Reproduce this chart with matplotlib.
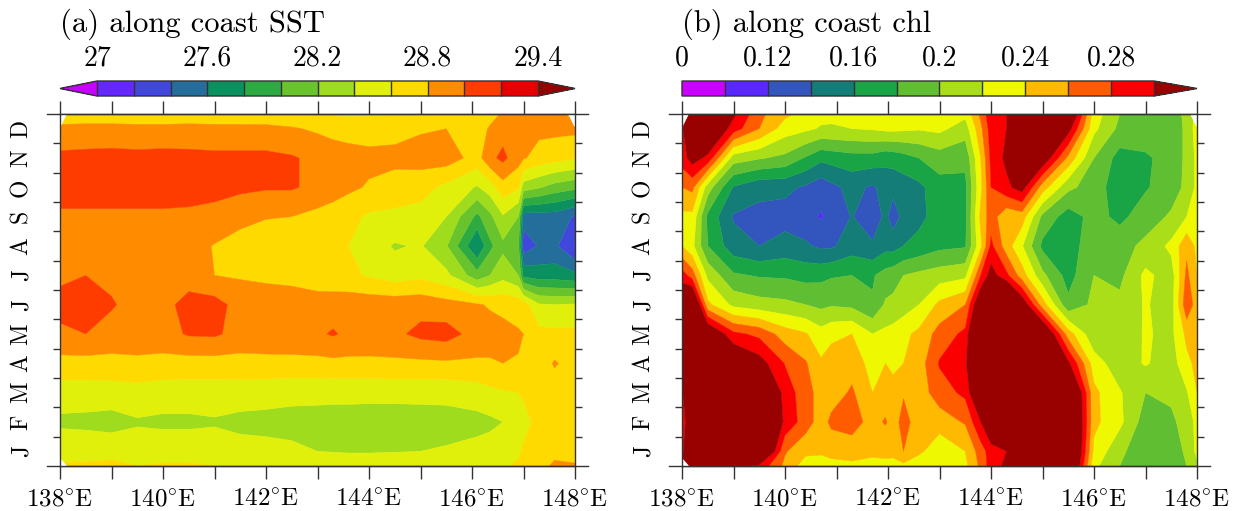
import matplotlib
matplotlib.use('Agg')

import numpy as np
import matplotlib.pyplot as plt

plt.rcParams['font.family'] = ['cmr10', 'DejaVu Serif']
plt.rcParams['axes.formatter.use_mathtext'] = True
plt.rcParams['mathtext.fontset'] = 'cm'

months = ['J', 'F', 'M', 'A', 'M', 'J', 'J', 'A', 'S', 'O', 'N', 'D']
rows = [0, .5, 1.5, 2.5, 3.5, 4.5, 5.5, 6.5, 7.5, 8.5, 9.5, 10.5, 11.5, 12]

# (a) SST, rows go from bottom (Jan) to top (Dec)
sst_lon = [138, 138.5, 139, 139.5, 140, 140.5, 141, 141.5, 142, 142.5, 143, 143.3, 143.6,
           144, 144.5, 145, 145.5, 146.1, 146.35, 146.6, 146.9, 147, 147.3, 147.6, 148]
sst = np.array([
    [28.62, 28.63, 28.66, 28.60, 28.62, 28.62, 28.60, 28.60, 28.60, 28.58, 28.58, 28.56, 28.55, 28.55, 28.55, 28.55, 28.56, 28.56, 28.57, 28.58, 28.62, 28.66, 28.72, 28.84, 28.82],
    [28.54, 28.53, 28.52, 28.50, 28.52, 28.52, 28.50, 28.47, 28.46, 28.44, 28.40, 28.39, 28.38, 28.38, 28.39, 28.40, 28.42, 28.46, 28.48, 28.50, 28.58, 28.62, 28.70, 28.74, 28.72],
    [28.36, 28.35, 28.33, 28.38, 28.36, 28.36, 28.38, 28.35, 28.34, 28.33, 28.32, 28.31, 28.31, 28.30, 28.30, 28.31, 28.32, 28.34, 28.36, 28.40, 28.50, 28.55, 28.65, 28.68, 28.68],
    [28.50, 28.50, 28.50, 28.52, 28.50, 28.50, 28.50, 28.49, 28.48, 28.46, 28.46, 28.46, 28.46, 28.46, 28.46, 28.46, 28.46, 28.50, 28.55, 28.58, 28.60, 28.62, 28.68, 28.70, 28.70],
    [28.73, 28.73, 28.74, 28.75, 28.73, 28.72, 28.72, 28.73, 28.74, 28.74, 28.74, 28.75, 28.75, 28.75, 28.76, 28.76, 28.77, 28.77, 28.78, 28.80, 28.79, 28.78, 28.68, 28.82, 28.72],
    [28.97, 29.00, 28.92, 28.93, 28.93, 29.02, 29.03, 28.93, 28.93, 28.94, 28.97, 29.02, 28.96, 28.95, 28.96, 29.05, 29.08, 28.92, 28.88, 28.86, 28.82, 28.80, 28.66, 28.65, 28.65],
    [29.05, 29.08, 29.02, 28.92, 28.93, 29.08, 29.08, 28.92, 28.93, 28.92, 28.90, 28.91, 28.92, 28.92, 28.92, 28.93, 28.88, 28.82, 28.78, 28.75, 28.72, 28.70, 28.42, 28.40, 28.42],
    [28.97, 29.00, 28.95, 28.88, 28.88, 28.90, 28.80, 28.78, 28.75, 28.73, 28.68, 28.66, 28.64, 28.58, 28.50, 28.55, 28.45, 28.08, 28.20, 28.33, 28.20, 27.75, 27.70, 27.70, 27.65],
    [28.88, 28.88, 28.88, 28.88, 28.88, 28.87, 28.79, 28.76, 28.70, 28.68, 28.66, 28.63, 28.60, 28.50, 28.38, 28.42, 28.22, 27.60, 27.95, 28.15, 28.05, 27.28, 27.42, 27.45, 27.18],
    [28.97, 28.97, 28.97, 28.97, 28.97, 28.96, 28.92, 28.83, 28.81, 28.80, 28.74, 28.70, 28.66, 28.57, 28.55, 28.52, 28.40, 27.95, 28.15, 28.38, 28.20, 27.50, 27.50, 27.50, 27.38],
    [29.08, 29.08, 29.08, 29.08, 29.08, 29.08, 29.08, 29.05, 29.02, 29.02, 28.95, 28.90, 28.84, 28.78, 28.72, 28.68, 28.55, 28.38, 28.50, 28.72, 28.62, 28.30, 28.22, 28.12, 28.05],
    [29.05, 29.06, 29.07, 29.06, 29.07, 29.06, 29.05, 29.05, 29.05, 29.02, 28.95, 28.90, 28.88, 28.85, 28.85, 28.88, 28.90, 28.72, 28.95, 29.05, 28.88, 28.82, 28.72, 28.68, 28.62],
    [28.85, 28.86, 28.86, 28.85, 28.85, 28.86, 28.85, 28.85, 28.85, 28.82, 28.77, 28.74, 28.72, 28.72, 28.74, 28.78, 28.80, 28.72, 28.82, 28.92, 28.93, 28.93, 28.85, 28.85, 28.85],
    [28.68, 28.68, 28.68, 28.68, 28.68, 28.68, 28.68, 28.68, 28.67, 28.65, 28.62, 28.58, 28.57, 28.58, 28.58, 28.58, 28.65, 28.70, 28.74, 28.82, 28.82, 28.82, 28.84, 28.84, 28.76],
])
sst_levels = [27, 27.2, 27.4, 27.6, 27.8, 28, 28.2, 28.4, 28.6, 28.8, 29, 29.2, 29.4]
sst_ticks = [27, 27.6, 28.2, 28.8, 29.4]
sst_ticklabels = ['27', '27.6', '28.2', '28.8', '29.4']
sst_colors = ['#c800ff', '#6428ff', '#4146dc', '#236e9b', '#0a915f', '#2daa41', '#69c32d',
              '#a0dc1e', '#e1f00a', '#ffda00', '#ff8c00', '#ff3c00', '#e80000', '#960000']

# (b) chl
chl_lon = [138, 138.2, 138.5, 139, 139.5, 140, 140.4, 140.7, 140.9, 141.3, 141.7, 141.95, 142.1, 142.3, 142.6,
           143, 143.5, 143.8, 144, 144.3, 144.6, 145, 145.5, 146, 146.5, 147, 147.5, 147.8, 148]
chl = np.array([
    [.300, .340, .350, .310, .295, .255, .230, .225, .235, .235, .225, .235, .230, .235, .225, .220, .235, .265, .290, .305, .370, .380, .360, .225, .200, .183, .187, .200, .215],
    [.290, .370, .370, .370, .360, .262, .245, .245, .245, .250, .250, .245, .248, .260, .245, .225, .240, .270, .290, .300, .370, .380, .370, .235, .205, .185, .185, .205, .225],
    [.275, .350, .370, .370, .360, .295, .270, .250, .265, .268, .253, .262, .250, .268, .250, .250, .262, .300, .330, .380, .380, .380, .370, .245, .225, .190, .195, .210, .225],
    [.295, .370, .370, .370, .360, .290, .270, .250, .250, .263, .240, .250, .248, .258, .250, .270, .285, .340, .380, .380, .380, .380, .360, .245, .222, .200, .205, .218, .240],
    [.360, .370, .360, .330, .310, .279, .262, .243, .250, .252, .232, .240, .235, .240, .250, .282, .295, .370, .380, .380, .380, .370, .305, .230, .208, .222, .210, .235, .245],
    [.360, .360, .330, .285, .275, .250, .242, .228, .235, .240, .220, .225, .228, .235, .245, .268, .285, .370, .380, .380, .370, .340, .250, .205, .207, .222, .215, .245, .245],
    [.330, .350, .245, .215, .208, .205, .200, .195, .198, .195, .182, .203, .205, .210, .220, .245, .260, .330, .360, .370, .320, .250, .185, .205, .205, .222, .210, .275, .250],
    [.290, .270, .215, .183, .178, .177, .173, .175, .178, .180, .178, .188, .192, .200, .205, .210, .215, .280, .310, .285, .250, .205, .172, .200, .195, .225, .210, .265, .240],
    [.240, .225, .180, .148, .140, .148, .143, .136, .137, .150, .143, .153, .152, .160, .166, .175, .178, .235, .285, .250, .222, .175, .172, .190, .192, .205, .225, .255, .235],
    [.235, .235, .175, .138, .135, .132, .127, .118, .128, .141, .127, .145, .130, .146, .155, .168, .175, .245, .270, .245, .250, .195, .170, .187, .175, .190, .203, .220, .225],
    [.260, .265, .210, .158, .145, .145, .137, .128, .135, .146, .137, .148, .146, .150, .155, .172, .175, .235, .280, .295, .310, .250, .205, .190, .168, .178, .190, .205, .225],
    [.290, .310, .295, .210, .202, .195, .178, .165, .168, .172, .172, .166, .168, .172, .180, .190, .185, .240, .285, .305, .340, .320, .255, .200, .172, .178, .185, .205, .225],
    [.295, .360, .335, .290, .260, .230, .224, .218, .218, .220, .222, .225, .225, .224, .222, .225, .210, .255, .290, .300, .340, .350, .310, .225, .195, .188, .185, .205, .230],
    [.285, .320, .340, .305, .265, .245, .232, .226, .224, .222, .228, .235, .238, .240, .234, .225, .225, .265, .295, .300, .340, .360, .340, .230, .200, .190, .180, .210, .225],
])
chl_levels = [0, .1, .12, .14, .16, .18, .2, .22, .24, .26, .28, .3]
chl_ticks = [0, .12, .16, .2, .24, .28]
chl_ticklabels = ['0', '0.12', '0.16', '0.2', '0.24', '0.28']
chl_colors = ['#cc00ff', '#5a28ff', '#3255be', '#147d78', '#19a546', '#5fbe32', '#aade19',
              '#eef800', '#ffb900', '#ff5c00', '#fa0000', '#990000']

W, H = 1233.0, 511.0
DARK = '#333333'
fig = plt.figure(figsize=(12.33, 5.11), dpi=100)


def panel(x0, lon, z, levels, colors, extend, title, ticks, ticklabels, frac):
    ax = fig.add_axes([x0 / W, (H - 466) / H, 515 / W, 352 / H])
    cf = ax.contourf(lon, rows, z, levels=levels, colors=colors, extend=extend, antialiased=True)
    cf.set_edgecolor('face')
    cf.set_linewidth(0.3)
    ax.set_xlim(138, 148)
    ax.set_ylim(0, 12)

    ax.set_xticks(np.arange(138, 149))
    ax.set_xticklabels(['%d$^{\\circ}$E' % v if v % 2 == 0 else '' for v in range(138, 149)], fontsize=18)
    ax.tick_params(axis='x', top=True, length=9.4, width=1, color=DARK, pad=7)

    ax.set_yticks(np.arange(12) + .5)
    ax.set_yticklabels(months, rotation=90, va='center', ha='center', fontsize=17)
    ax.tick_params(axis='y', which='major', length=0, pad=28)
    ax.set_yticks(np.arange(1, 12), minor=True)
    ax.tick_params(axis='y', which='minor', left=True, right=True, length=5, width=1, color=DARK)
    for m in [0, 12]:
        ax.plot([-.025, 1.025], [m, m], transform=ax.get_yaxis_transform(), color=DARK, lw=1, clip_on=False)
    for s in ax.spines.values():
        s.set_color(DARK)
        s.set_linewidth(1)

    # small blank corners the plot leaves in the mesh
    ax.fill([0, .012, 0], [1, 1, .965], transform=ax.transAxes, color='w', zorder=2)
    ax.fill([0, .012, 0], [0, 0, .02], transform=ax.transAxes, color='w', zorder=2)
    ax.fill([1, .988, 1], [1, 1, .965], transform=ax.transAxes, color='w', zorder=2)

    cax = fig.add_axes([x0 / W, (H - 96) / H, 515 / W, 15 / H])
    cb = fig.colorbar(cf, cax=cax, orientation='horizontal', drawedges=True, extendfrac=frac)
    cb.set_ticks(ticks, labels=ticklabels)
    cb.ax.xaxis.set_ticks_position('top')
    cb.ax.tick_params(length=0, pad=6.5, labelsize=20)
    cb.ax.minorticks_off()
    cb.outline.set_edgecolor(DARK)
    cb.outline.set_linewidth(1)
    cb.dividers.set_color(DARK)
    cb.dividers.set_linewidth(1)

    fig.text(x0 / W, (H - 32) / H, title, fontsize=22, ha='left', va='baseline')


panel(60, sst_lon, sst, sst_levels, sst_colors, 'both', '(a) along coast SST', sst_ticks, sst_ticklabels, .084)
panel(682, chl_lon, chl, chl_levels, chl_colors, 'max', '(b) along coast chl', chl_ticks, chl_ticklabels, .091)

fig.savefig('out.png', dpi=100)
